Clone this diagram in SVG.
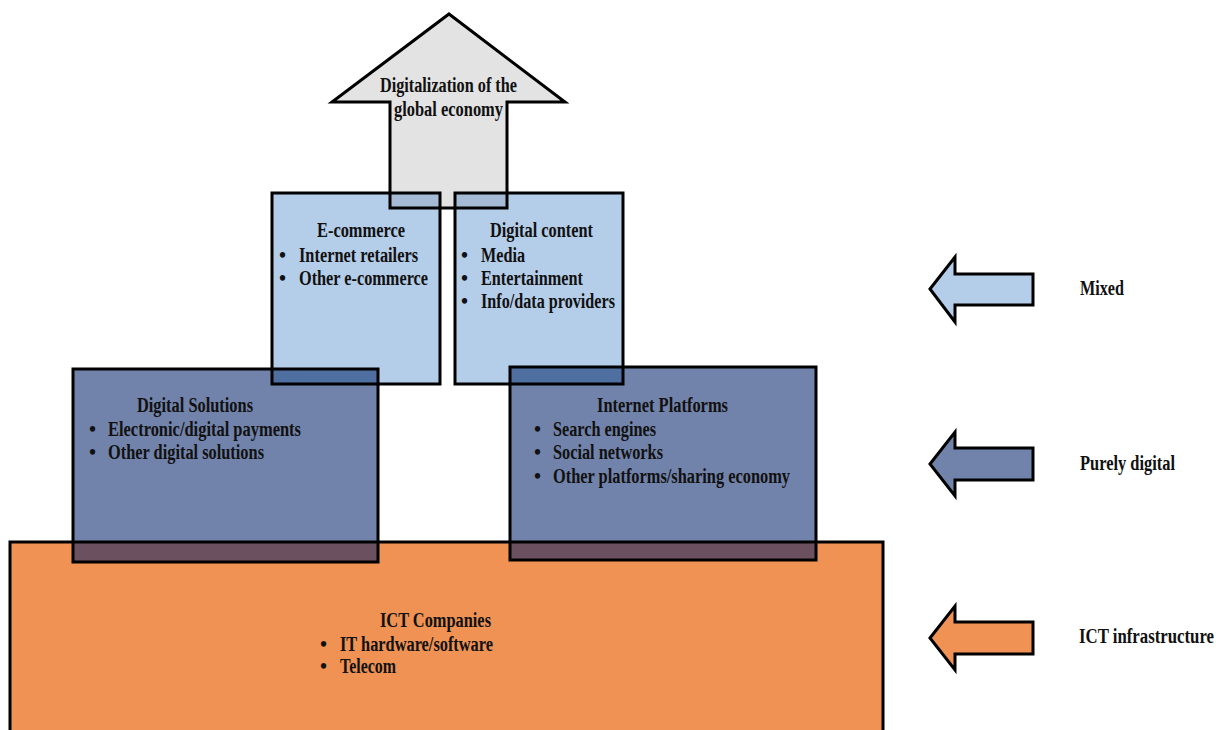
<svg xmlns="http://www.w3.org/2000/svg" width="1216" height="730" viewBox="0 0 1216 730">
<style>
text{font-family:"Liberation Serif","Times New Roman",serif;font-weight:bold;font-size:20px;fill:#111}
.ol{fill:none;stroke:#000;stroke-width:3;stroke-linejoin:miter}
.gray{fill:#e3e3e3}
.lb{fill:#b4cde9}
.db{fill:#7183aa}
.or{fill:#ef9254}
</style>
<rect width="1216" height="730" fill="#fff"/>
<g id="arrow-main">
<polygon class="gray" points="449,14 565,102 507,102 507,208 390,208 390,102 332,102"/>
</g>
<g id="ecommerce"><rect class="lb" x="272" y="193" width="168" height="191"/></g>
<g id="digital-content"><rect class="lb" x="455" y="193" width="168" height="191"/></g>
<g id="ict"><rect class="or" x="10" y="542" width="873" height="200"/></g>
<g id="digital-solutions"><rect class="db" x="73" y="369" width="305" height="193"/></g>
<g id="internet-platforms"><rect class="db" x="510" y="367" width="306" height="193"/></g>
<g id="overlaps">
<rect x="390" y="193" width="50" height="15" fill="#a5bbd5"/>
<rect x="455" y="193" width="52" height="15" fill="#a5bbd5"/>
<rect x="272" y="369" width="106" height="15" fill="#4f6fa1"/>
<rect x="510" y="367" width="113" height="17" fill="#4f6fa1"/>
<rect x="73" y="542" width="305" height="20" fill="#6b5060"/>
<rect x="510" y="542" width="306" height="18" fill="#6b5060"/>
</g>
<g id="outlines">
<polygon class="ol" points="449,14 565,102 507,102 507,208 390,208 390,102 332,102"/>
<rect class="ol" x="272" y="193" width="168" height="191"/>
<rect class="ol" x="455" y="193" width="168" height="191"/>
<rect class="ol" x="10" y="542" width="873" height="200"/>
<rect class="ol" x="73" y="369" width="305" height="193"/>
<rect class="ol" x="510" y="367" width="306" height="193"/>
</g>
<g id="labels">
<text x="380" y="92" textLength="137" lengthAdjust="spacingAndGlyphs">Digitalization of the</text>
<text x="394" y="116" textLength="109" lengthAdjust="spacingAndGlyphs">global economy</text>

<text x="317" y="237" textLength="88" lengthAdjust="spacingAndGlyphs">E-commerce</text>
<text x="279" y="262">•</text>
<text x="299" y="262" textLength="119" lengthAdjust="spacingAndGlyphs">Internet retailers</text>
<text x="279" y="285">•</text>
<text x="299" y="285" textLength="129" lengthAdjust="spacingAndGlyphs">Other e-commerce</text>

<text x="490" y="237" textLength="103" lengthAdjust="spacingAndGlyphs">Digital content</text>
<text x="461" y="262">•</text>
<text x="481" y="262" textLength="44" lengthAdjust="spacingAndGlyphs">Media</text>
<text x="461" y="285">•</text>
<text x="481" y="285" textLength="102" lengthAdjust="spacingAndGlyphs">Entertainment</text>
<text x="461" y="308">•</text>
<text x="481" y="308" textLength="134" lengthAdjust="spacingAndGlyphs">Info/data providers</text>

<text x="137" y="412" textLength="116" lengthAdjust="spacingAndGlyphs">Digital Solutions</text>
<text x="89" y="436">•</text>
<text x="108" y="436" textLength="193" lengthAdjust="spacingAndGlyphs">Electronic/digital payments</text>
<text x="89" y="459">•</text>
<text x="108" y="459" textLength="156" lengthAdjust="spacingAndGlyphs">Other digital solutions</text>

<text x="597" y="412" textLength="131" lengthAdjust="spacingAndGlyphs">Internet Platforms</text>
<text x="534" y="436">•</text>
<text x="553" y="436" textLength="103" lengthAdjust="spacingAndGlyphs">Search engines</text>
<text x="534" y="459">•</text>
<text x="553" y="459" textLength="110" lengthAdjust="spacingAndGlyphs">Social networks</text>
<text x="534" y="483">•</text>
<text x="553" y="483" textLength="237" lengthAdjust="spacingAndGlyphs">Other platforms/sharing economy</text>

<text x="380" y="627" textLength="111" lengthAdjust="spacingAndGlyphs">ICT Companies</text>
<text x="320" y="651">•</text>
<text x="340" y="651" textLength="153" lengthAdjust="spacingAndGlyphs">IT hardware/software</text>
<text x="320" y="673">•</text>
<text x="340" y="673" textLength="56" lengthAdjust="spacingAndGlyphs">Telecom</text>
</g>
<g id="legend">
<g id="legend-mixed">
<polygon class="lb" stroke="#000" stroke-width="3" points="930,289 955,257 955,274 1033,274 1033,305 955,305 955,322"/>
<text x="1080" y="295" textLength="44" lengthAdjust="spacingAndGlyphs">Mixed</text>
</g>
<g id="legend-digital">
<polygon class="db" stroke="#000" stroke-width="3" points="930,464 955,432 955,448 1033,448 1033,480 955,480 955,496"/>
<text x="1080" y="470" textLength="95" lengthAdjust="spacingAndGlyphs">Purely digital</text>
</g>
<g id="legend-ict">
<polygon class="or" stroke="#000" stroke-width="3" points="930,638 955,606 955,622 1033,622 1033,654 955,654 955,670"/>
<text transform="translate(1079,643) scale(0.84,1)" x="0" y="0">ICT infrastructure</text>
</g>
</g>
<g id="connectors"></g>
</svg>
